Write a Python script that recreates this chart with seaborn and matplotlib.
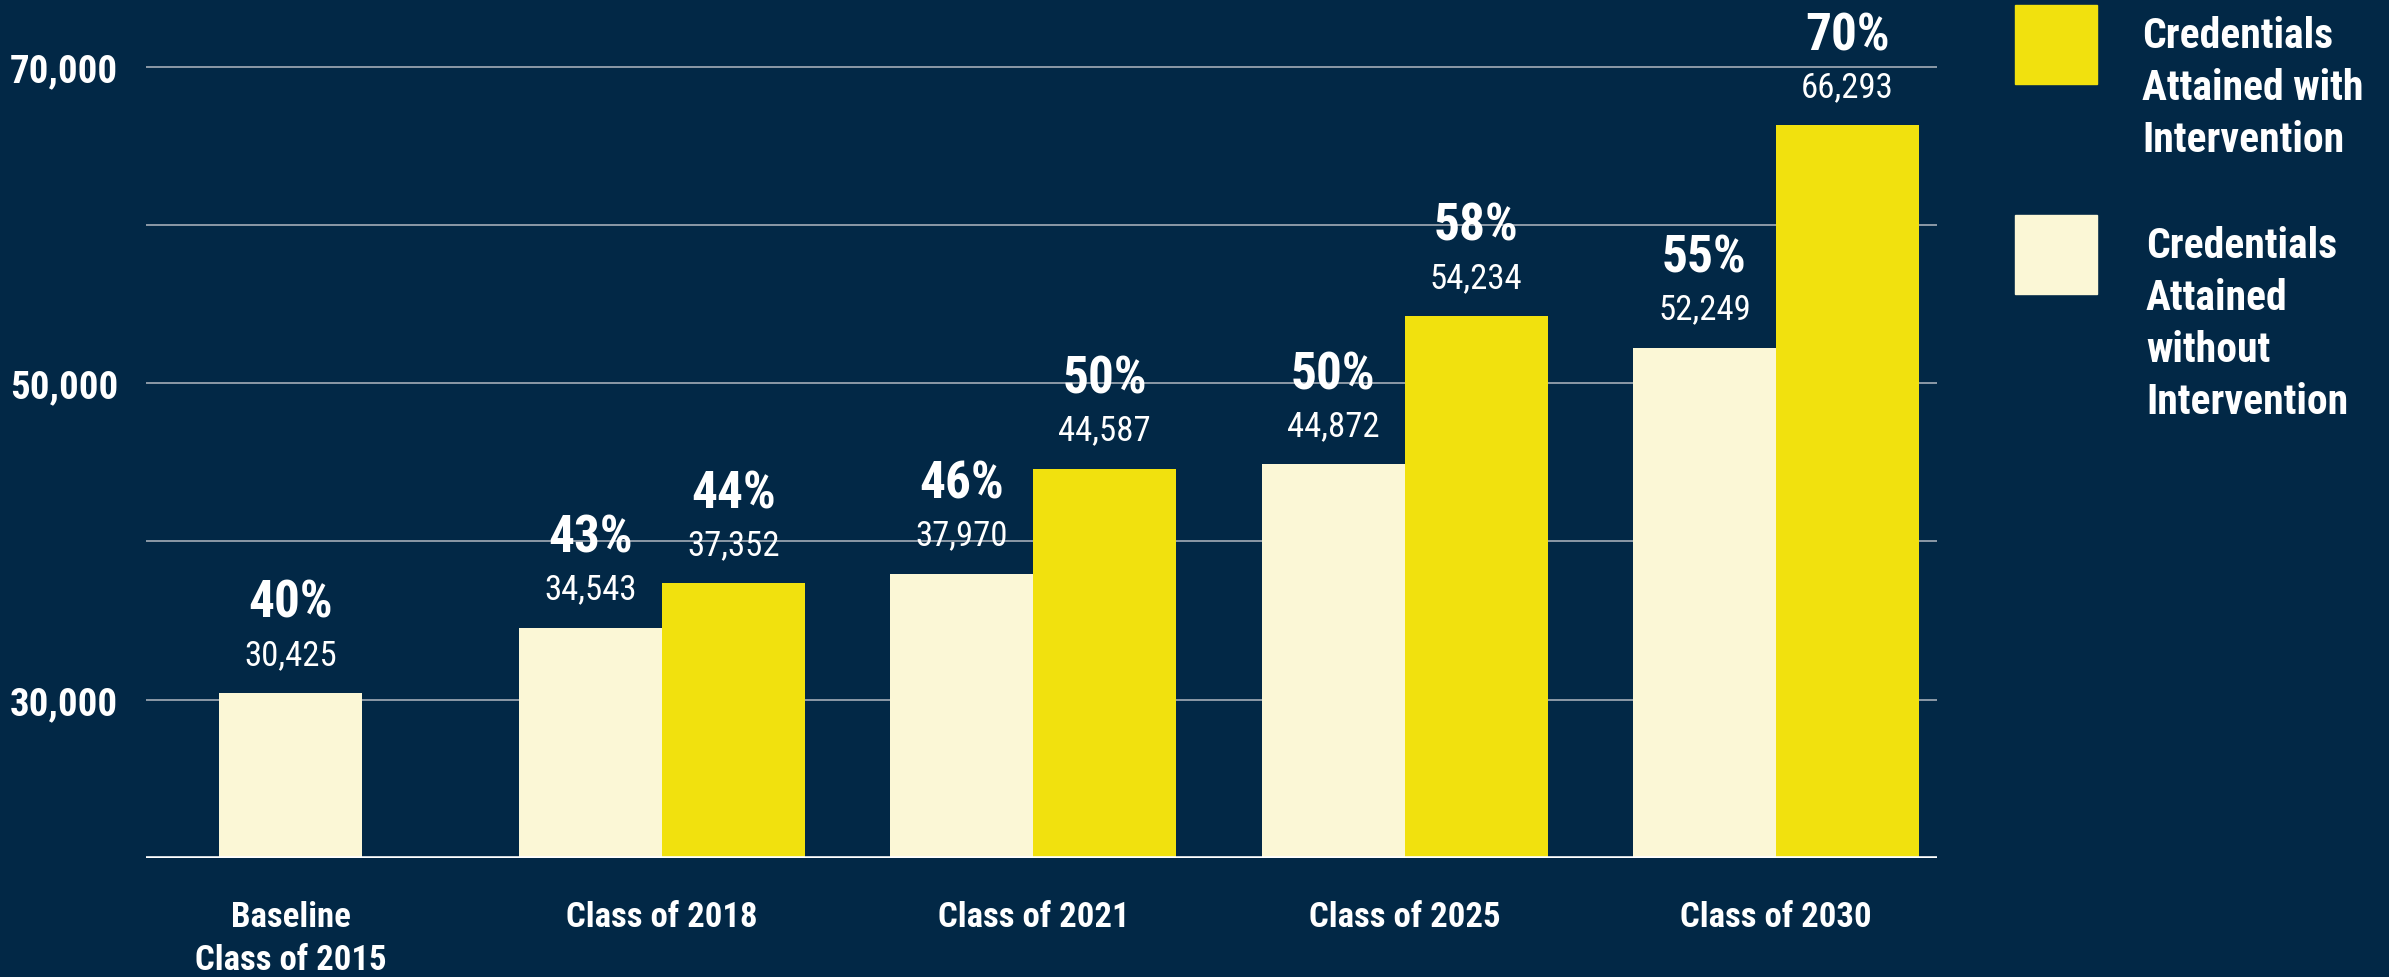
import numpy as np
import pandas as pd
import seaborn as sb
import matplotlib.pyplot as plt
from matplotlib.patches import Rectangle

categories = ['Baseline\nClass of 2015', 'Class of 2018', 'Class of 2021', 'Class of 2025', 'Class of 2030']
without_int = [30425, 34543, 37970, 44872, 52249]
with_int = [np.nan, 37352, 44587, 54234, 66293]
pct_without = ['40%', '43%', '46%', '50%', '55%']
pct_with = ['', '44%', '50%', '58%', '70%']
series = ['without', 'with']
legend_labels = ['Credentials\nAttained with\nIntervention', 'Credentials\nAttained\nwithout\nIntervention']
yticks = [30000, 40000, 50000, 60000, 70000]
ytick_labels = ['30,000', '', '50,000', '', '70,000']

BG = '#022846'
CREAM = '#FBF7D6'
YELLOW = '#F1E10E'
GRID = '#a3adb8'

sb.set_style('dark')
plt.rcParams['font.family'] = ['Roboto Condensed', 'Archivo Narrow', 'Liberation Sans', 'DejaVu Sans']

# grouped part (baseline has only one bar, drawn centred on its own below)
df = pd.DataFrame({
    'cat': categories[1:] * 2,
    'value': without_int[1:] + with_int[1:],
    'series': [series[0]] * 4 + [series[1]] * 4,
})

fig = plt.figure(figsize=(23.89, 9.78), dpi=100, facecolor=BG)
ax = fig.add_axes([146 / 2389, 119 / 978, 1791 / 2389, 823 / 978])
ax.set_facecolor(BG)

sb.barplot(data=df, x='cat', y='value', hue='series', order=categories, hue_order=series,
           palette=[CREAM, YELLOW], width=0.77, saturation=1, legend=False, linewidth=0, ax=ax)
sb.barplot(x=[categories[0]], y=[without_int[0]], order=categories, color=CREAM,
           width=0.385, saturation=1, linewidth=0, ax=ax)

# labels over bars: number then percentage
num_kw = dict(color='white', fontsize=25, fontweight='normal')
pct_kw = dict(color='white', fontsize=37, fontweight='bold')
groups = [
    (ax.containers[0], without_int[1:], pct_without[1:]),
    (ax.containers[1], with_int[1:], pct_with[1:]),
    (ax.containers[2], without_int[:1], pct_without[:1]),
]
for cont, vals, pcts in groups:
    ax.bar_label(cont, labels=[f'{v:,.0f}' for v in vals], padding=16, **num_kw)
    ax.bar_label(cont, labels=pcts, padding=47, **pct_kw)

ax.set_ylim(20000, 72000)
ax.set_xlim(-0.39, 4.434)
ax.set_yticks(yticks)
ax.set_yticklabels(ytick_labels)
ax.grid(axis='y', color=GRID, lw=1.2)
ax.grid(axis='x', visible=False)
ax.set_axisbelow(True)
ax.axhline(20000, color='white', lw=2.6, zorder=5)
for s in ax.spines.values():
    s.set_visible(False)
ax.tick_params(axis='y', length=0, pad=20, labelsize=28, labelcolor='white')
ax.tick_params(axis='x', length=0, pad=30, labelsize=25, labelcolor='white')
for t in ax.get_yticklabels() + ax.get_xticklabels():
    t.set_fontweight('bold')
for t in ax.get_xticklabels():
    t.set_linespacing(1.38)
ax.set_xlabel('')
ax.set_ylabel('')

# legend at top right
for (y0, col, lab, tx) in [(85, YELLOW, legend_labels[0], 2142), (295, CREAM, legend_labels[1], 2146)]:
    fig.patches.append(Rectangle((2015 / 2389, 1 - y0 / 978), 82 / 2389, 79 / 978,
                                 transform=fig.transFigure, color=col))
    fig.text(tx / 2389, 1 - (y0 - 79 + 10) / 978, lab, color='white', fontsize=30,
             fontweight='bold', va='top', ha='left', linespacing=1.34)

plt.savefig('out.png', dpi=100, facecolor=BG)
